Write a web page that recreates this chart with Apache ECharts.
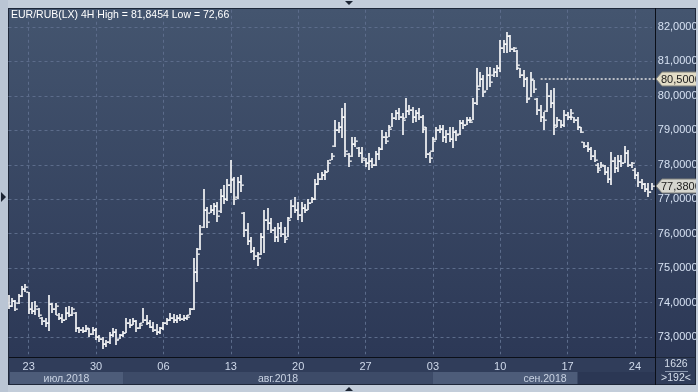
<!DOCTYPE html>
<html><head><meta charset="utf-8">
<script src="https://cdn.jsdelivr.net/npm/echarts@6/dist/echarts.min.js"></script>
<style>html,body{margin:0;padding:0;background:#c3cdda;overflow:hidden}#c{width:698px;height:392px}</style>
</head><body><div id="c"></div>
<script>
const barOpen = [
74.00,73.90,74.05,74.00,74.20,74.40,74.30,73.80,73.75,73.80,
73.55,73.45,73.40,73.95,73.80,73.65,73.55,73.50,73.70,73.65,
73.70,73.25,73.20,73.18,73.22,73.10,73.20,73.00,72.95,72.80,
72.85,73.05,73.15,72.95,73.05,73.12,73.40,73.35,73.45,73.25,
73.40,73.50,73.40,73.30,73.20,73.15,73.25,73.40,73.50,73.55,
73.50,73.55,73.52,73.55,73.65,73.80,74.90,75.55,76.20,76.70,
76.60,76.70,76.80,76.65,77.10,77.00,77.40,77.55,77.05,77.50,
76.60,76.10,75.80,75.50,75.35,75.40,75.90,76.40,76.30,76.10,
75.90,76.15,76.00,75.90,76.45,76.80,76.70,76.55,76.75,76.70,
76.90,77.00,77.45,77.60,77.70,77.80,78.15,78.55,79.00,79.10,
79.40,78.30,78.25,78.60,78.50,78.35,78.15,78.05,78.10,78.00,
78.30,78.45,78.80,78.80,79.10,79.35,79.50,79.40,79.35,79.55,
79.60,79.40,79.50,79.40,79.05,78.30,78.40,78.75,79.00,79.05,
78.80,78.90,78.75,78.95,78.90,79.20,79.15,79.30,79.30,79.80,
80.30,80.50,80.15,80.60,80.60,80.70,80.80,81.40,81.50,81.75,
81.35,81.30,80.80,80.60,80.50,79.95,80.45,79.90,79.60,79.40,
79.55,80.00,79.80,79.15,79.30,79.15,79.45,79.40,79.40,79.30,
79.10,78.65,78.55,78.45,78.25,78.00,77.90,77.95,77.80,77.60,
78.10,77.90,78.10,78.05,78.35,78.00,77.85,77.70,77.50,77.45,
77.30,77.20];
const barHigh = [
74.22,74.12,74.07,74.25,74.47,74.53,74.32,74.02,74.04,73.83,
73.59,73.54,74.22,73.98,73.99,73.70,73.68,73.88,73.90,73.88,
73.73,73.30,73.28,73.35,73.25,73.30,73.25,73.06,73.00,72.91,
73.15,73.25,73.22,73.10,73.18,73.54,73.51,73.54,73.49,73.41,
73.83,73.63,73.49,73.44,73.39,73.30,73.44,73.54,73.70,73.67,
73.64,73.67,73.64,73.64,73.83,75.28,75.57,76.25,77.29,76.78,
76.83,76.88,76.93,77.30,77.40,77.60,78.14,77.65,77.65,77.70,
76.64,76.30,75.91,75.62,75.47,76.01,76.69,76.74,76.45,76.20,
76.30,76.35,76.20,76.49,76.98,77.07,76.93,76.93,76.85,77.00,
77.07,77.60,77.75,77.80,77.85,78.14,78.33,79.30,79.25,79.64,
79.78,78.33,78.82,78.82,78.53,78.53,78.19,78.33,78.19,78.40,
78.53,79.01,78.95,79.15,79.49,79.59,79.64,79.49,79.93,79.73,
79.69,79.59,79.64,79.45,79.11,78.38,78.82,79.11,79.15,79.15,
79.01,79.10,79.11,79.00,79.30,79.30,79.40,79.38,79.93,80.80,
80.70,80.60,80.85,80.85,80.80,80.90,81.62,81.62,81.85,81.77,
81.43,81.33,80.80,80.75,80.56,80.70,80.46,79.93,79.73,79.54,
80.36,80.17,80.22,79.40,79.30,79.59,79.54,79.61,79.40,79.40,
79.11,78.67,78.67,78.53,78.43,78.04,78.09,77.99,77.94,78.38,
78.24,78.28,78.28,78.54,78.43,78.09,77.90,77.80,77.60,77.46,
77.46,77.46];
const barLow = [
73.80,73.88,73.74,73.95,74.17,74.32,73.68,73.68,73.64,73.59,
73.35,73.30,73.18,73.69,73.64,73.49,73.41,73.49,73.59,73.61,
73.15,73.13,73.11,73.15,73.01,73.06,72.91,72.86,72.66,72.72,
72.81,73.01,72.77,72.93,73.01,73.11,73.25,73.35,73.15,73.22,
73.40,73.35,73.25,73.15,73.06,73.10,73.20,73.35,73.45,73.42,
73.40,73.45,73.47,73.49,73.64,73.78,74.60,75.52,76.15,76.15,
76.59,76.54,76.35,76.60,76.85,76.95,77.17,76.83,77.00,77.22,
75.91,75.67,75.43,75.23,75.05,75.38,75.43,76.11,76.01,75.77,
75.77,75.91,75.74,75.90,76.44,76.59,76.40,76.35,76.59,76.70,
76.88,76.98,77.41,77.56,77.56,77.80,78.14,78.53,78.91,78.77,
78.24,77.94,78.24,78.53,78.24,78.04,77.94,77.85,77.90,77.95,
78.14,78.43,78.60,78.80,79.11,79.30,79.30,78.86,79.35,79.45,
79.20,79.25,79.30,78.91,78.19,78.04,78.38,78.72,78.91,78.67,
78.62,78.65,78.48,78.70,78.86,79.05,79.15,79.20,79.30,79.73,
80.27,79.98,80.17,80.27,80.56,80.56,80.70,81.24,81.24,81.28,
81.28,80.75,80.51,80.27,79.78,79.98,80.07,79.45,79.25,79.01,
79.54,79.64,78.86,79.11,79.06,79.11,79.30,79.30,79.20,79.01,
78.91,78.48,78.38,78.14,78.09,77.75,77.90,77.70,77.46,77.41,
77.75,77.80,77.94,78.04,77.94,77.90,77.60,77.36,77.31,77.22,
77.07,77.27];
const barClose = [
73.90,74.05,73.80,74.20,74.40,74.45,73.80,73.75,73.90,73.65,
73.45,73.40,73.95,73.80,73.90,73.55,73.50,73.70,73.65,73.80,
73.25,73.20,73.18,73.25,73.10,73.20,73.00,72.95,72.80,72.85,
73.05,73.15,72.90,73.05,73.12,73.40,73.35,73.45,73.25,73.35,
73.50,73.40,73.30,73.20,73.15,73.25,73.40,73.50,73.55,73.50,
73.55,73.52,73.55,73.58,73.80,74.90,75.40,76.00,76.70,76.35,
76.70,76.80,76.50,77.10,77.00,77.40,77.60,77.00,77.50,77.40,
76.10,75.80,75.50,75.35,75.30,75.90,76.40,76.30,76.10,75.90,
76.15,76.00,75.85,76.40,76.80,76.70,76.55,76.75,76.70,76.90,
77.00,77.45,77.60,77.70,77.80,78.05,78.25,79.00,79.10,79.40,
78.40,78.10,78.60,78.70,78.35,78.20,78.05,78.10,78.00,78.30,
78.45,78.80,78.70,79.05,79.35,79.50,79.40,79.30,79.55,79.60,
79.40,79.50,79.40,79.10,78.30,78.20,78.70,79.00,79.05,78.80,
78.90,78.75,78.95,78.85,79.20,79.15,79.30,79.25,79.80,80.20,
80.50,80.10,80.60,80.40,80.70,80.80,81.40,81.50,81.75,81.35,
81.40,80.90,80.60,80.50,79.90,80.50,80.20,79.60,79.40,79.30,
80.00,79.80,79.10,79.30,79.15,79.45,79.40,79.50,79.30,79.10,
78.95,78.55,78.45,78.25,78.15,77.85,78.00,77.80,77.60,78.10,
77.90,78.10,78.05,78.35,78.00,78.05,77.70,77.50,77.45,77.30,
77.20,77.38];
const weekLabels = ['23','30','06','13','20','27','03','10','17','24'];
const firstWeekBar = 6;
const barsPerWeek = 20;
const monthLabels = ['июл.2018','авг.2018','сен.2018'];
const monthEndBars = [34, 126, 169];
const titleText = 'EUR/RUB(LX) 4H High = 81,8454 Low = 72,66';
const levelPrice = 80.5;
const levelStartBar = 158;
const lastPrice = 77.38;
const infoTop = '1626';
const infoBottom = '>192<';

const FONT = 'Liberation Sans, Arial, sans-serif';
const fmt = v => v.toFixed(6).replace('.', ',');
const isWeek = i => i >= firstWeekBar && (i - firstWeekBar) % barsPerWeek === 0;
const dash = '#5c6c8b';

const chart = echarts.init(document.getElementById('c'), null, {renderer: 'canvas'});
const ohlc = barOpen.map((o, i) => [i, o, barHigh[i], barLow[i], barClose[i]]);

const option = {
  backgroundColor: '#c3cdda',
  animation: false,
  grid: {left: 8.5, right: 46.2, top: 9.78, bottom: 37.8, containLabel: false, outerBoundsMode: 'none'},
  xAxis: {
    type: 'category', boundaryGap: false,
    data: barOpen.map((_, i) => String(i)),
    axisLine: {show: false}, axisTick: {show: false},
    axisLabel: {
      interval: (i) => isWeek(i),
      formatter: (v, i) => weekLabels[(i - firstWeekBar) / barsPerWeek] || '',
      color: '#cfd9ea', fontSize: 11, fontFamily: FONT, margin: 7
    },
    splitLine: {show: true, interval: (i) => isWeek(i),
      lineStyle: {color: dash, type: [3, 3], width: 1}}
  },
  yAxis: {
    type: 'value', position: 'right', min: 72.5, max: 82.5, interval: 0.5,
    axisLine: {show: false}, axisTick: {show: false},
    axisLabel: {
      formatter: v => (Math.abs(v - Math.round(v)) < 1e-6 && v > 72.6 && v < 82.4) ? fmt(v) : '',
      color: '#d6e1f2', fontSize: 11, fontFamily: FONT, margin: 6, align: 'left'
    },
    splitLine: {show: true, lineStyle: {color: ['rgba(0,0,0,0)', dash], type: [3, 3], width: 1}}
  },
  series: [{
    type: 'custom',
    data: ohlc,
    encode: {x: 0, y: [1, 2, 3, 4]},
    z: 5,
    renderItem: function (params, api) {
      const i = api.value(0);
      const o = api.coord([i, api.value(1)]);
      const h = api.coord([i, api.value(2)]);
      const l = api.coord([i, api.value(3)]);
      const c = api.coord([i, api.value(4)]);
      const x = Math.round(h[0]);
      const st = {fill: '#ffffff'};
      const yh = Math.round(h[1]), yl = Math.round(l[1]);
      return {type: 'group', children: [
        {type: 'rect', shape: {x: x - 0.8, y: yh, width: 1.6, height: Math.max(2, yl - yh)}, style: st},
        {type: 'rect', shape: {x: x - 2.8, y: Math.round(o[1]) - 0.5, width: 2, height: 1.3}, style: st},
        {type: 'rect', shape: {x: x + 0.8, y: Math.round(c[1]) - 0.5, width: 2, height: 1.3}, style: st}
      ]};
    }
  }],
  graphic: []
};
chart.setOption(option);

const px = i => chart.convertToPixel({xAxisIndex: 0}, String(i));
const py = v => chart.convertToPixel({yAxisIndex: 0}, v);
const grad = (a, b) => new echarts.graphic.LinearGradient(0, 0, 0, 1, [{offset: 0, color: a}, {offset: 1, color: b}]);

const xJul = px(monthEndBars[0]), xAug = px(monthEndBars[1]), xSep = px(monthEndBars[2]);
const yLevel = Math.round(py(levelPrice)), yLast = Math.round(py(lastPrice));
const xLevel = px(levelStartBar);

function tag(y, text, fill) {
  return [
    {type: 'polygon', z: 60, shape: {points: [[656, y], [662, y - 7], [697, y - 7], [697, y + 7], [662, y + 7]]},
      style: {fill: fill, stroke: '#7d7f7a', lineWidth: 1}},
    {type: 'text', z: 61, x: 661, y: y + 0.5, style: {text: text, fill: '#1a1a1a', font: '11px ' + FONT, verticalAlign: 'middle'}}
  ];
}

const g = [
  {type: 'rect', z: -10, shape: {x: 8, y: 8, width: 688, height: 377}, style: {fill: '#1e2739'}},
  {type: 'rect', z: -9, shape: {x: 9, y: 9, width: 686, height: 348}, style: {fill: grad('#44556f', '#2c3856')}},
  {type: 'rect', z: -9, shape: {x: 9, y: 358, width: 686, height: 26}, style: {fill: '#303d5a'}},
  {type: 'rect', z: -8, shape: {x: 10, y: 372, width: xJul - 10, height: 12}, style: {fill: '#4d5c79'}},
  {type: 'rect', z: -8, shape: {x: xJul, y: 372, width: xAug - xJul, height: 12}, style: {fill: '#3d4b68'}},
  {type: 'rect', z: -8, shape: {x: xAug, y: 372, width: xSep - xAug, height: 12}, style: {fill: '#4d5c79'}},
  {type: 'rect', z: -8, shape: {x: xSep, y: 372, width: 655 - xSep, height: 12}, style: {fill: '#2b3754'}},
  {type: 'text', z: 20, x: (10 + xJul) / 2, y: 379, style: {text: monthLabels[0], fill: '#c9d3e3', font: '10.5px ' + FONT, align: 'center', verticalAlign: 'middle'}},
  {type: 'text', z: 20, x: 278, y: 379, style: {text: monthLabels[1], fill: '#c9d3e3', font: '10.5px ' + FONT, align: 'center', verticalAlign: 'middle'}},
  {type: 'text', z: 20, x: 545, y: 379, style: {text: monthLabels[2], fill: '#c9d3e3', font: '10.5px ' + FONT, align: 'center', verticalAlign: 'middle'}},
  {type: 'line', z: 30, shape: {x1: 655.5, y1: 8, x2: 655.5, y2: 385}, style: {stroke: '#0b0f18', lineWidth: 1}},
  {type: 'line', z: 30, shape: {x1: 9, y1: 357.5, x2: 655, y2: 357.5}, style: {stroke: '#0b0f18', lineWidth: 1}},
  {type: 'text', z: 20, x: 676, y: 364, style: {text: infoTop, fill: '#d6dfec', font: '10.5px ' + FONT, align: 'center', verticalAlign: 'middle'}},
  {type: 'line', z: 20, shape: {x1: 665, y1: 371.5, x2: 688, y2: 371.5}, style: {stroke: '#8a97ae', lineWidth: 1}},
  {type: 'text', z: 20, x: 676, y: 378.5, style: {text: infoBottom, fill: '#d6dfec', font: '10.5px ' + FONT, align: 'center', verticalAlign: 'middle'}},
  {type: 'text', z: 40, x: 11, y: 15, style: {text: titleText, fill: '#ffffff', font: '10.5px ' + FONT, verticalAlign: 'middle'}},
  {type: 'line', z: 50, shape: {x1: xLevel, y1: yLevel, x2: 656, y2: yLevel}, style: {stroke: '#b9bdc5', lineWidth: 2, lineDash: [2, 2]}},
  ...tag(yLevel, fmt(levelPrice), '#e2dcc6'),
  ...tag(yLast, fmt(lastPrice), '#d6d6cf'),
  {type: 'rect', z: 90, shape: {x: 696, y: 0, width: 2, height: 392}, style: {fill: '#c3cdda'}},
  {type: 'rect', z: 90, shape: {x: 0, y: 0, width: 698, height: 8}, style: {fill: '#c3cdda'}},
  {type: 'rect', z: 90, shape: {x: 0, y: 385, width: 698, height: 7}, style: {fill: '#c3cdda'}},
  {type: 'rect', z: 90, shape: {x: 0, y: 0, width: 8, height: 392}, style: {fill: '#bac5d4'}},
  {type: 'polygon', z: 95, shape: {points: [[345, 1], [353, 1], [349, 5]]}, style: {fill: '#1c2433'}},
  {type: 'polygon', z: 95, shape: {points: [[345, 391], [353, 391], [349, 387]]}, style: {fill: '#1c2433'}},
  {type: 'polygon', z: 95, shape: {points: [[1, 192], [1, 202], [6, 197]]}, style: {fill: '#1c2433'}}
];
chart.setOption({graphic: g});
</script>
</body></html>
